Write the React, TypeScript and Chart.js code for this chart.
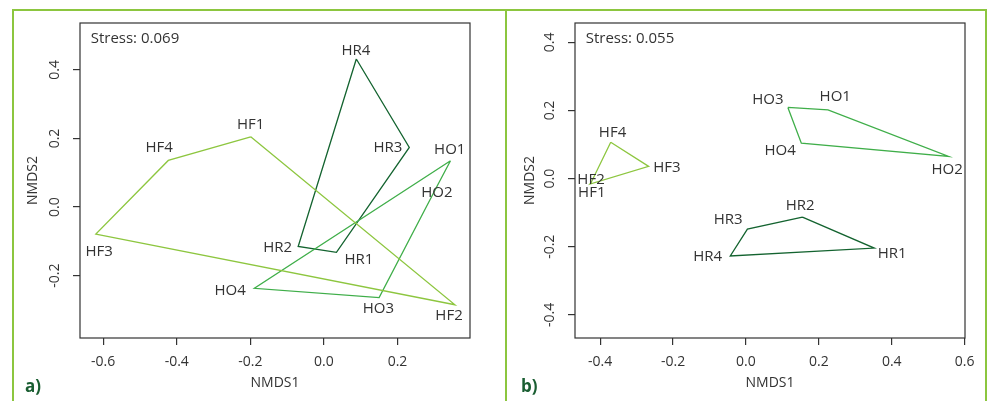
import React, { useEffect, useRef } from "react";
import { Chart, registerables } from "chart.js";

Chart.register(...registerables);

// ---------- data ----------
const SAMPLES = ["HF1", "HF2", "HF3", "HF4", "HO1", "HO2", "HO3", "HO4", "HR1", "HR2", "HR3", "HR4"];

// Panel a
const A_X = [-0.199, 0.356, -0.62, -0.423, 0.344, 0.312, 0.15, -0.189, 0.034, -0.07, 0.232, 0.088];
const A_Y = [0.205, -0.285, -0.079, 0.136, 0.135, 0.07, -0.264, -0.237, -0.132, -0.115, 0.174, 0.432];
const A_LABEL_X = [-0.199, 0.34, -0.611, -0.448, 0.342, 0.307, 0.148, -0.255, 0.095, -0.126, 0.174, 0.087];
const A_LABEL_Y = [0.24, -0.316, -0.13, 0.174, 0.167, 0.042, -0.298, -0.243, -0.154, -0.118, 0.174, 0.457];
const A_HULL_HF = [0, 3, 2, 1];
const A_HULL_HO = [4, 5, 6, 7];
const A_HULL_HR = [11, 10, 8, 9];
const A_XTICKS = [-0.6, -0.4, -0.2, 0, 0.2];
const A_YTICKS = [-0.2, 0, 0.2, 0.4];
const A_XRANGE = [-0.663, 0.397];
const A_YRANGE = [-0.382, 0.537];
const A_STRESS = "Stress: 0.069";

// Panel b
const B_X = [-0.428, -0.425, -0.267, -0.371, 0.225, 0.556, 0.115, 0.152, 0.352, 0.155, 0.004, -0.043];
const B_Y = [-0.016, -0.012, 0.036, 0.107, 0.202, 0.065, 0.209, 0.104, -0.204, -0.113, -0.148, -0.227];
const B_LABEL_X = [-0.423, -0.425, -0.217, -0.366, 0.245, 0.552, 0.06, 0.094, 0.401, 0.149, -0.049, -0.105];
const B_LABEL_Y = [-0.041, -0.003, 0.031, 0.136, 0.241, 0.026, 0.232, 0.083, -0.221, -0.08, -0.121, -0.229];
const B_HULL_HF = [3, 2, 0, 1];
const B_HULL_HO = [6, 4, 5, 7];
const B_HULL_HR = [9, 8, 11, 10];
const B_XTICKS = [-0.4, -0.2, 0, 0.2, 0.4, 0.6];
const B_YTICKS = [-0.4, -0.2, 0, 0.2, 0.4];
const B_XRANGE = [-0.469, 0.601];
const B_YRANGE = [-0.468, 0.457];
const B_STRESS = "Stress: 0.055";

// ---------- style ----------
const FONT = "'Open Sans', sans-serif";
const TEXT = "#333333";
const C_HF = "#8dc63f";
const C_HO = "#3fae49";
const C_HR = "#13632f";
const FRAME = "#8cc63f";
const TAG = "#1a5e32";

const fmt = (v: number) => (Math.abs(v) < 1e-9 ? "0.0" : v.toFixed(1));

const overlayPlugin = {
  id: "overlay",
  afterDraw(chart: any, _args: any, opts: any) {
    const { ctx, chartArea: ca, scales } = chart;
    const xs = scales.x;
    const ys = scales.y;
    ctx.save();
    ctx.strokeStyle = TEXT;
    ctx.lineWidth = 1.2;
    ctx.strokeRect(ca.left, ca.top, ca.right - ca.left, ca.bottom - ca.top);

    ctx.fillStyle = TEXT;
    ctx.font = `14px ${FONT}`;
    ctx.textAlign = "center";
    ctx.textBaseline = "middle";
    ys.ticks.forEach((t: any) => {
      const py = ys.getPixelForValue(t.value);
      ctx.save();
      ctx.translate(ca.left - 25, py);
      ctx.rotate(-Math.PI / 2);
      ctx.fillText(fmt(t.value), 0, 0);
      ctx.restore();
    });

    ctx.font = `15px ${FONT}`;
    opts.names.forEach((n: string, i: number) => {
      ctx.fillText(n, xs.getPixelForValue(opts.lx[i]), ys.getPixelForValue(opts.ly[i]));
    });

    ctx.textAlign = "left";
    ctx.fillText(opts.stress, ca.left + 10.7, ca.top + 16);
    ctx.restore();
  },
};

type PanelProps = {
  left: number;
  width: number;
  xs: number[];
  ys: number[];
  lx: number[];
  ly: number[];
  hulls: { idx: number[]; color: string }[];
  xticks: number[];
  yticks: number[];
  xrange: number[];
  yrange: number[];
  stress: string;
  yAxisWidth: number;
  rightPad: number;
  yTitlePad: number;
};

function Panel(p: PanelProps) {
  const ref = useRef<HTMLCanvasElement>(null);
  useEffect(() => {
    if (!ref.current) return;
    const datasets = p.hulls.map((h) => ({
      data: [...h.idx, h.idx[0]].map((i) => ({ x: p.xs[i], y: p.ys[i] })),
      showLine: true,
      borderColor: h.color,
      borderWidth: 1.3,
      pointRadius: 0,
      fill: false,
      tension: 0,
    }));
    const chart = new Chart(ref.current, {
      type: "scatter",
      data: { datasets },
      options: {
        animation: false,
        responsive: false,
        layout: { padding: { left: 0, right: p.rightPad, top: 23, bottom: 0 } },
        plugins: {
          legend: { display: false },
          tooltip: { enabled: false },
          overlay: { names: SAMPLES, lx: p.lx, ly: p.ly, stress: p.stress },
        } as any,
        scales: {
          x: {
            type: "linear",
            min: p.xrange[0],
            max: p.xrange[1],
            afterBuildTicks: (s: any) => {
              s.ticks = p.xticks.map((v) => ({ value: v }));
            },
            afterFit: (s: any) => {
              s.height = 63;
            },
            ticks: {
              color: TEXT,
              font: { family: FONT, size: 14 },
              padding: 9,
              maxRotation: 0,
              callback: (v: any) => fmt(Number(v)),
            },
            grid: { drawOnChartArea: false, drawTicks: true, tickLength: 7, color: TEXT, lineWidth: 1.2 },
            border: { display: false },
            title: {
              display: true,
              text: "NMDS1",
              color: TEXT,
              font: { family: FONT, size: 14 },
              padding: { top: 0, bottom: 10 },
            },
          },
          y: {
            type: "linear",
            min: p.yrange[0],
            max: p.yrange[1],
            afterBuildTicks: (s: any) => {
              s.ticks = p.yticks.map((v) => ({ value: v }));
            },
            afterFit: (s: any) => {
              s.width = p.yAxisWidth;
            },
            ticks: { display: false },
            grid: { drawOnChartArea: false, drawTicks: true, tickLength: 7, color: TEXT, lineWidth: 1.2 },
            border: { display: false },
            title: {
              display: true,
              text: "NMDS2",
              color: TEXT,
              font: { family: FONT, size: 14 },
              padding: { top: p.yTitlePad, bottom: 0 },
            },
          },
        },
      },
      plugins: [overlayPlugin],
    } as any);
    return () => chart.destroy();
  }, []);
  return (
    <canvas
      ref={ref}
      width={p.width}
      height={401}
      style={{ position: "absolute", left: p.left, top: 0, width: p.width, height: 401 }}
    />
  );
}

export default function App() {
  return (
    <div
      style={{
        position: "fixed",
        left: 0,
        top: 0,
        width: 989,
        height: 401,
        background: "#fff",
        overflow: "hidden",
      }}
    >
      <Panel
        left={0}
        width={506}
        xs={A_X}
        ys={A_Y}
        lx={A_LABEL_X}
        ly={A_LABEL_Y}
        hulls={[
          { idx: A_HULL_HF, color: C_HF },
          { idx: A_HULL_HO, color: C_HO },
          { idx: A_HULL_HR, color: C_HR },
        ]}
        xticks={A_XTICKS}
        yticks={A_YTICKS}
        xrange={A_XRANGE}
        yrange={A_YRANGE}
        stress={A_STRESS}
        yAxisWidth={80}
        rightPad={36}
        yTitlePad={25}
      />
      <Panel
        left={506}
        width={483}
        xs={B_X}
        ys={B_Y}
        lx={B_LABEL_X}
        ly={B_LABEL_Y}
        hulls={[
          { idx: B_HULL_HF, color: C_HF },
          { idx: B_HULL_HO, color: C_HO },
          { idx: B_HULL_HR, color: C_HR },
        ]}
        xticks={B_XTICKS}
        yticks={B_YTICKS}
        xrange={B_XRANGE}
        yrange={B_YRANGE}
        stress={B_STRESS}
        yAxisWidth={69}
        rightPad={24}
        yTitlePad={16}
      />
      <div
        style={{
          position: "absolute",
          left: 12,
          top: 9,
          width: 971,
          height: 420,
          borderTop: `2px solid ${FRAME}`,
          borderLeft: `2px solid ${FRAME}`,
          borderRight: `2px solid ${FRAME}`,
          pointerEvents: "none",
        }}
      />
      <div
        style={{ position: "absolute", left: 505, top: 9, width: 2, height: 400, background: FRAME }}
      />
      <div
        style={{
          position: "absolute",
          left: 25,
          top: 376,
          font: `bold 17px ${FONT}`,
          color: TAG,
          lineHeight: "20px",
        }}
      >
        a)
      </div>
      <div
        style={{
          position: "absolute",
          left: 521,
          top: 376,
          font: `bold 17px ${FONT}`,
          color: TAG,
          lineHeight: "20px",
        }}
      >
        b)
      </div>
    </div>
  );
}
